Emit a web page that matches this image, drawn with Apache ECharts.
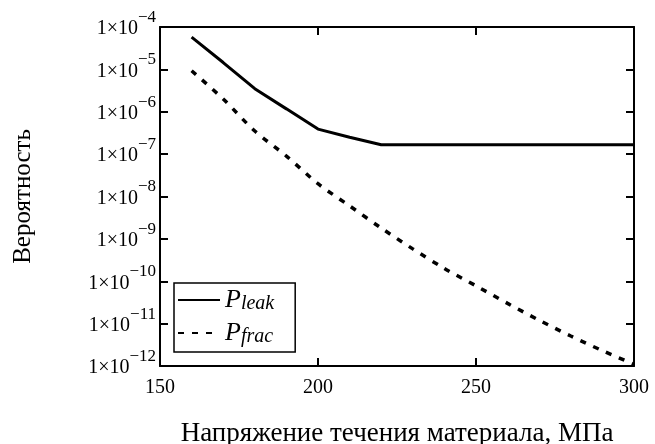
<!DOCTYPE html>
<html>
<head>
<meta charset="utf-8">
<script src="https://cdn.jsdelivr.net/npm/echarts@6/dist/echarts.min.js"></script>
<style>
  html, body { margin: 0; padding: 0; background: #fff; }
  #chart { width: 655px; height: 444px; }
</style>
</head>
<body>
<div id="chart"></div>
<script>
// напряжение течения, МПа
const stress = [160, 170, 180, 190, 200, 210, 220, 230, 240, 250, 260, 270, 280, 290, 300];
const pLeak = [5.75e-5, 1.45e-5, 3.5e-6, 1.17e-6, 3.9e-7, 2.5e-7, 1.66e-7, 1.66e-7, 1.66e-7, 1.66e-7, 1.66e-7, 1.66e-7, 1.66e-7, 1.66e-7, 1.66e-7];
const pFrac = [9.3e-6, 2.0e-6, 3.5e-7, 9.0e-8, 2.0e-8, 6.0e-9, 1.8e-9, 5.8e-10, 2.0e-10, 7.8e-11, 3.0e-11, 1.2e-11, 5.1e-12, 2.3e-12, 1.1e-12];

const serif = '"Liberation Serif", "DejaVu Serif", serif';
const chart = echarts.init(document.getElementById('chart'));

const axisLine = { show: true, lineStyle: { color: '#000', width: 2 } };
const axisTick = { show: true, inside: true, length: 8, lineStyle: { color: '#000', width: 2 } };

const option = {
  animation: false,
  grid: { left: 160, right: 21, top: 27, bottom: 78, outerBoundsMode: 'none' },
  legend: {
    orient: 'vertical',
    left: 174,
    top: 283,
    padding: [4, 21, 5, 3],
    itemGap: 6,
    itemWidth: 42,
    itemHeight: 14,
    borderColor: '#000',
    borderWidth: 1.5,
    borderRadius: 0,
    itemStyle: { opacity: 0 },
    data: ['leak', 'frac'],
    formatter: function (name) { return '{p|P}{s|' + name + '}'; },
    textStyle: {
      fontFamily: serif,
      rich: {
        p: { fontFamily: serif, fontStyle: 'italic', fontSize: 26, lineHeight: 28, color: '#000', verticalAlign: 'middle' },
        s: { fontFamily: serif, fontStyle: 'italic', fontSize: 20, lineHeight: 20, color: '#000', verticalAlign: 'bottom' }
      }
    }
  },
  xAxis: [{
    type: 'value',
    min: 150, max: 300, interval: 50,
    name: 'Напряжение течения материала, МПа',
    nameLocation: 'middle',
    nameGap: 54,
    nameTextStyle: { fontFamily: serif, fontSize: 27, color: '#000' },
    axisLine: axisLine,
    axisTick: axisTick,
    splitLine: { show: false },
    axisLabel: { fontFamily: serif, fontSize: 20, color: '#000', margin: 12 }
  }, {
    type: 'value',
    position: 'top',
    min: 150, max: 300, interval: 50,
    axisLine: axisLine,
    axisTick: axisTick,
    splitLine: { show: false },
    axisLabel: { show: false }
  }],
  yAxis: [{
    type: 'log',
    logBase: 10,
    min: 1e-12, max: 1e-4,
    interval: 1,
    name: 'Вероятность',
    nameLocation: 'middle',
    nameGap: 124,
    nameRotate: 90,
    nameTextStyle: { fontFamily: serif, fontSize: 25, color: '#000' },
    axisLine: axisLine,
    axisTick: axisTick,
    splitLine: { show: false },
    minorTick: { show: false },
    axisLabel: {
      margin: 4,
      formatter: function (v) {
        const e = Math.round(Math.log10(v));
        return '{a|1×10}{b|−' + (-e) + '}';
      },
      rich: {
        a: { fontFamily: serif, fontSize: 20, lineHeight: 36, color: '#000', verticalAlign: 'middle', padding: [4, 0, 0, 0] },
        b: { fontFamily: serif, fontSize: 17, lineHeight: 17, color: '#000', verticalAlign: 'top' }
      }
    }
  }, {
    type: 'log',
    logBase: 10,
    min: 1e-12, max: 1e-4,
    interval: 1,
    position: 'right',
    axisLine: axisLine,
    axisTick: axisTick,
    splitLine: { show: false },
    axisLabel: { show: false }
  }],
  series: [{
    name: 'leak',
    type: 'line',
    symbol: 'none',
    data: stress.map((x, i) => [x, pLeak[i]]),
    lineStyle: { color: '#000', width: 3 },
    itemStyle: { color: '#000' }
  }, {
    name: 'frac',
    type: 'line',
    symbol: 'none',
    smooth: 0.3,
    data: stress.map((x, i) => [x, pFrac[i]]),
    lineStyle: { color: '#000', width: 3.5, type: [6, 8] },
    itemStyle: { color: '#000' }
  }]
};

chart.setOption(option);
</script>
</body>
</html>
